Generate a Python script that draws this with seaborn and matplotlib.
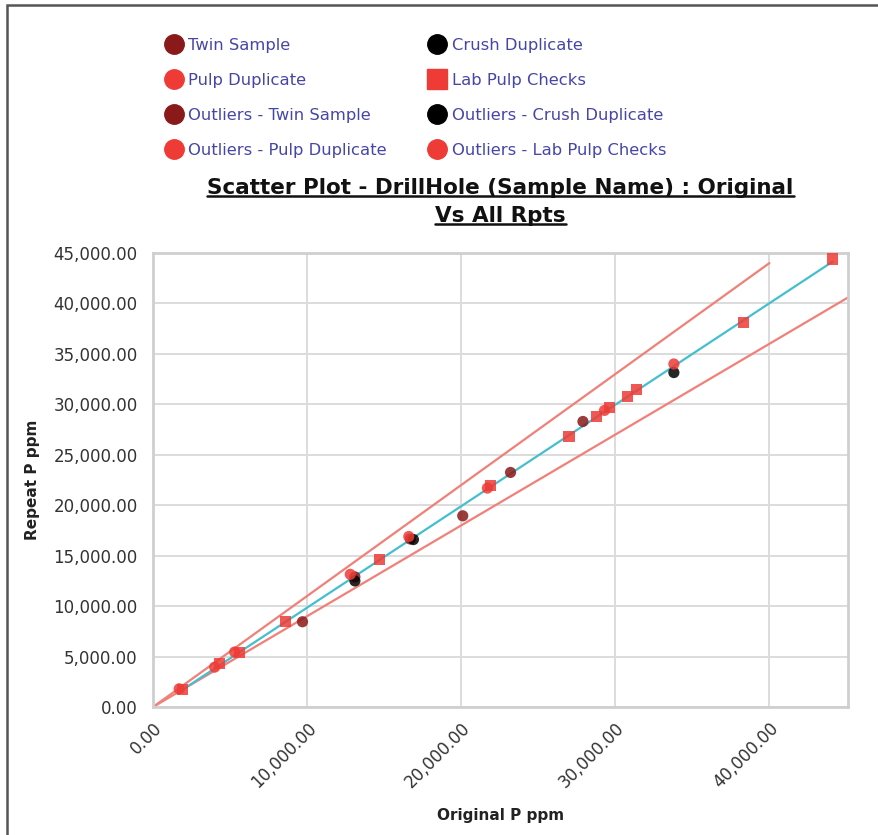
"""Scatter plot of original vs repeat P assays (QAQC duplicates)."""

import matplotlib
matplotlib.use("Agg")
import matplotlib.pyplot as plt
from matplotlib.lines import Line2D
from matplotlib.patches import Rectangle
from matplotlib.ticker import FuncFormatter, MultipleLocator
import numpy as np
import pandas as pd
import seaborn as sns

# data (ppm)
twin_x = [9700, 16700, 20100, 23200, 27900, 13100]
twin_y = [8450, 16650, 18950, 23250, 28300, 12900]
crush_x = [13100, 33800, 16900]
crush_y = [12500, 33150, 16600]
pulp_x = [1700, 4000, 5300, 12800, 21700, 29300, 33800, 16600]
pulp_y = [1800, 3950, 5450, 13150, 21700, 29400, 34000, 16900]
lab_x = [1900, 4300, 8600, 14700, 21900, 27000, 28800, 29600, 30800, 31400, 38300, 44100, 5600]
lab_y = [1750, 4300, 8450, 14600, 21950, 26850, 28800, 29700, 30800, 31500, 38150, 44400, 5400]

# +/-10% precision limits
upper_x = [0, 40000]
upper_y = [0, 44000]
lower_x = [0, 45100]
lower_y = [0, 40590]

DARK_RED = "#8a1a1a"
RED = "#ee3b36"
colors = {"Twin Sample": DARK_RED, "Crush Duplicate": "#000000",
          "Pulp Duplicate": RED, "Lab Pulp Checks": RED}
markers = {"Twin Sample": "o", "Crush Duplicate": "o",
           "Pulp Duplicate": "o", "Lab Pulp Checks": "s"}

frames = []
for name, xs, ys in [("Twin Sample", twin_x, twin_y), ("Crush Duplicate", crush_x, crush_y),
                     ("Pulp Duplicate", pulp_x, pulp_y), ("Lab Pulp Checks", lab_x, lab_y)]:
    frames.append(pd.DataFrame({"original": xs, "repeat": ys, "type": name}))
df = pd.concat(frames, ignore_index=True)

sns.set_theme(style="whitegrid")
plt.rcParams["font.family"] = ["DejaVu Sans"]

fig = plt.figure(figsize=(8.79, 8.35), dpi=100)
ax = fig.add_axes([153 / 879, 1 - 707 / 835, 695 / 879, 454 / 835])

ax.plot(upper_x, upper_y, color="#f08078", lw=1.6, zorder=2)
ax.plot(lower_x, lower_y, color="#f08078", lw=1.6, zorder=2)
sns.regplot(data=df, x="original", y="repeat", scatter=False, ci=None, ax=ax,
            line_kws={"color": "#45bfcf", "lw": 1.6, "zorder": 3})

sns.scatterplot(data=df, x="original", y="repeat", hue="type", style="type",
                palette=colors, markers=markers, s=65, alpha=0.85,
                edgecolor="none", legend=False, ax=ax, zorder=4)

ax.set_xlim(0, 45100)
ax.set_ylim(0, 45000)
ax.xaxis.set_major_locator(MultipleLocator(10000))
ax.yaxis.set_major_locator(MultipleLocator(5000))
fmt = FuncFormatter(lambda v, _: f"{v:,.2f}")
ax.xaxis.set_major_formatter(fmt)
ax.yaxis.set_major_formatter(fmt)
ax.grid(True, color="#dcdcdc", lw=1.4)
for sp in ax.spines.values():
    sp.set_color("#cfcfcf")
    sp.set_linewidth(2)
ax.tick_params(axis="both", labelsize=12, labelcolor="#333333", length=5, color="#cfcfcf")
ax.tick_params(axis="y", pad=6)
plt.setp(ax.get_xticklabels(), rotation=45, ha="right", rotation_mode="anchor")
ax.set_xlabel("Original P ppm", fontsize=11, fontweight="bold", color="#222222", labelpad=12)
ax.set_ylabel("Repeat P ppm", fontsize=11, fontweight="bold", color="#222222", labelpad=10)

# legend: two columns, four rows
def handle(color, marker):
    return Line2D([], [], ls="none", marker=marker, markersize=14,
                  markerfacecolor=color, markeredgecolor=color)

legend_items = [
    ("Twin Sample", handle(DARK_RED, "o")),
    ("Pulp Duplicate", handle(RED, "o")),
    ("Outliers - Twin Sample", handle(DARK_RED, "o")),
    ("Outliers - Pulp Duplicate", handle(RED, "o")),
    ("Crush Duplicate", handle("#000000", "o")),
    ("Lab Pulp Checks", handle(RED, "s")),
    ("Outliers - Crush Duplicate", handle("#000000", "o")),
    ("Outliers - Lab Pulp Checks", handle(RED, "o")),
]
leg = fig.legend([h for _, h in legend_items], [l for l, _ in legend_items],
                 ncol=2, loc="upper left", bbox_to_anchor=(159 / 879, 1 - 31 / 835),
                 frameon=False, fontsize=11.8, handlelength=1.0, handletextpad=0.4,
                 columnspacing=2.55, labelspacing=1.22, borderaxespad=0)
for t in leg.get_texts():
    t.set_color("#4646a8")

# underlined title
title_lines = ["Scatter Plot - DrillHole (Sample Name) : Original", "Vs All Rpts"]
title_y = [1 - 188 / 835, 1 - 216 / 835]
fig.canvas.draw()
renderer = fig.canvas.get_renderer()
cx = (153 + 848) / 2 / 879
for txt, yy in zip(title_lines, title_y):
    t = fig.text(cx, yy, txt, ha="center", va="center", fontsize=15.5,
                 fontweight="bold", color="#111111")
    bb = t.get_window_extent(renderer).transformed(fig.transFigure.inverted())
    fig.add_artist(Line2D([bb.x0, bb.x1], [bb.y0 + 0.002, bb.y0 + 0.002],
                          color="#111111", lw=1.8, transform=fig.transFigure))

# outer frame (left and top edges visible)
fig.add_artist(Rectangle((7 / 879, -0.05), 1.1, 1 - 5 / 835 + 0.05, fill=False,
                         edgecolor="#555555", lw=1.8, transform=fig.transFigure))

fig.savefig("out.png", dpi=100)
